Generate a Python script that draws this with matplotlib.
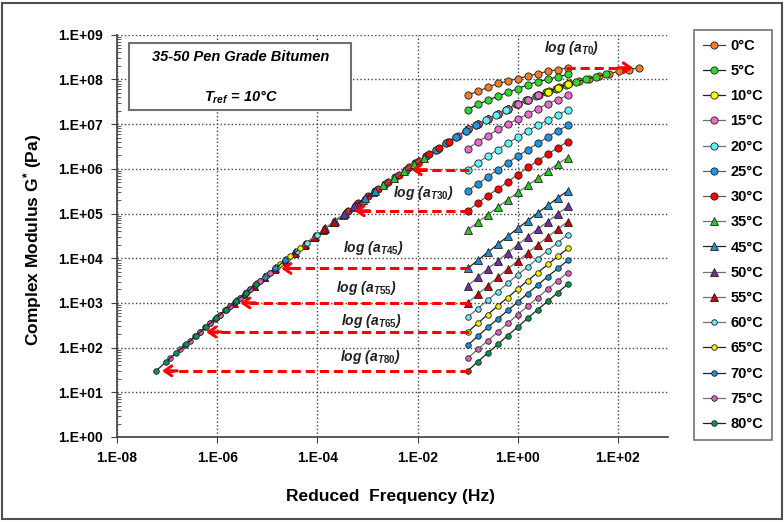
import numpy as np
import matplotlib
matplotlib.use('Agg')
import matplotlib.pyplot as plt
from matplotlib.patches import Rectangle, FancyArrowPatch
from matplotlib.ticker import LogLocator, FuncFormatter, NullFormatter

plt.rcParams['font.family'] = ['Liberation Sans', 'DejaVu Sans']
plt.rcParams['font.weight'] = 'bold'
plt.rcParams['mathtext.fontset'] = 'custom'
plt.rcParams['mathtext.rm'] = 'Liberation Sans:bold'
plt.rcParams['mathtext.bf'] = 'Liberation Sans:bold'
plt.rcParams['mathtext.it'] = 'Liberation Sans:italic:bold'

# test frequencies (Hz)
freq = [0.1, 0.158, 0.251, 0.398, 0.631, 1.0, 1.585, 2.512, 3.981, 6.310, 10.0]

temps = [0, 5, 10, 15, 20, 25, 30, 35, 45, 50, 55, 60, 65, 70, 75, 80]
# log10 of shift factor aT (Tref = 10 C)
log_aT = [1.42, 0.76, 0.0, -0.60, -1.24, -1.84, -2.38, -2.88,
          -3.84, -4.26, -4.66, -5.00, -5.34, -5.64, -5.94, -6.22]

# log10 |G*| (Pa) per isotherm
g00 = [7.65, 7.73, 7.82, 7.91, 7.96, 8.02, 8.07, 8.13, 8.18, 8.22, 8.26]
g05 = [7.32, 7.44, 7.53, 7.62, 7.71, 7.79, 7.88, 7.95, 8.00, 8.06, 8.11]
g10 = [6.88, 7.00, 7.11, 7.23, 7.34, 7.46, 7.55, 7.64, 7.72, 7.81, 7.90]
g15 = [6.45, 6.60, 6.74, 6.88, 7.00, 7.11, 7.23, 7.34, 7.46, 7.55, 7.64]
g20 = [5.98, 6.14, 6.28, 6.43, 6.57, 6.71, 6.85, 6.97, 7.09, 7.20, 7.32]
g25 = [5.51, 5.66, 5.82, 5.98, 6.14, 6.28, 6.43, 6.57, 6.71, 6.85, 6.97]
g30 = [5.06, 5.23, 5.40, 5.55, 5.71, 5.87, 6.03, 6.18, 6.33, 6.47, 6.61]
g35 = [4.63, 4.80, 4.97, 5.14, 5.31, 5.47, 5.63, 5.79, 5.95, 6.11, 6.25]
g45 = [3.77, 3.95, 4.13, 4.31, 4.49, 4.67, 4.84, 5.01, 5.18, 5.35, 5.51]
g50 = [3.38, 3.57, 3.76, 3.94, 4.12, 4.30, 4.48, 4.65, 4.82, 4.99, 5.16]
g55 = [3.00, 3.19, 3.38, 3.57, 3.76, 3.94, 4.12, 4.30, 4.48, 4.65, 4.82]
g60 = [2.68, 2.87, 3.06, 3.25, 3.44, 3.63, 3.81, 3.99, 4.17, 4.35, 4.53]
g65 = [2.35, 2.54, 2.74, 2.93, 3.12, 3.31, 3.50, 3.68, 3.86, 4.04, 4.22]
g70 = [2.05, 2.25, 2.45, 2.64, 2.83, 3.02, 3.21, 3.40, 3.59, 3.77, 3.95]
g75 = [1.76, 1.96, 2.15, 2.35, 2.54, 2.74, 2.93, 3.12, 3.31, 3.50, 3.68]
g80 = [1.48, 1.68, 1.88, 2.07, 2.27, 2.46, 2.66, 2.85, 3.04, 3.23, 3.42]
iso = [g00, g05, g10, g15, g20, g25, g30, g35, g45, g50, g55, g60, g65, g70, g75, g80]

# which shifts get an arrow / label
arrow_temps = [0, 20, 30, 45, 55, 65, 80]
label_temps = [0, 30, 45, 55, 65, 80]

colors = ['#F07C28', '#2ED82E', '#FFFF00', '#E86CC8', '#5CF4F4', '#1E96E0', '#FF0000',
          '#2EC82E', '#1E90D0', '#7030A0', '#D00000',
          '#70E8F8', '#F0F000', '#1E8CD8', '#E060C0', '#129050']
markers = ['o'] * 7 + ['^'] * 4 + ['o'] * 5
msizes = [5.2] * 7 + [5.2] * 4 + [4.0] * 5
lcol = ['#404040', '#202020', '#202020', '#707070', '#707070', '#606060', '#606060',
        '#707070', '#202020', '#707070', '#707070', '#707070', '#202020', '#202020',
        '#707070', '#202020']

fig = plt.figure(figsize=(7.84, 5.22), dpi=100)
fig.add_artist(Rectangle((0.003, 0.005), 0.994, 0.99, transform=fig.transFigure,
                         fill=False, ec='#505050', lw=1.5))
ax = fig.add_axes([117/784, 1-437/522, 551/784, 402.3/522])

f = np.array(freq)
for i, t in enumerate(temps):
    g = 10 ** np.array(iso[i])
    kw = dict(color=lcol[i], lw=0.9, marker=markers[i], ms=msizes[i],
              mfc=colors[i], mec='#202020', mew=0.6)
    ax.plot(f, g, label='%d°C' % t, zorder=3, **kw)
    ax.plot(f * 10 ** log_aT[i], g, zorder=3, **kw)

for t in arrow_temps:
    i = temps.index(t)
    k = -1 if log_aT[i] > 0 else 0
    x0 = freq[k]
    y0 = 10 ** iso[i][k]
    x1 = x0 * 10 ** log_aT[i]
    d = 10 ** (0.12 if log_aT[i] < 0 else -0.12)
    tip = x1 * d
    ax.plot([x0 * d ** 0.3, tip * d ** 0.8], [y0, y0], color='red', lw=2.2,
            dashes=(3, 1.6), zorder=4)
    ax.add_patch(FancyArrowPatch((tip * d ** 2.5, y0), (tip, y0),
                                 arrowstyle='->,head_length=5,head_width=3.5',
                                 color='red', lw=2.2, shrinkA=0, shrinkB=0, zorder=5))

lab_pos = {0: (12, 10 ** 8.70), 30: (10 ** -1.89, 10 ** 5.46), 45: (10 ** -2.89, 10 ** 4.23),
           55: (10 ** -3.02, 10 ** 3.33), 65: (10 ** -2.92, 10 ** 2.60), 80: (10 ** -2.95, 10 ** 1.80)}
for t in label_temps:
    ax.text(lab_pos[t][0], lab_pos[t][1], r'log (a$_{T%d}$)' % t, ha='center', va='center',
            fontsize=10, style='italic', weight='bold', color='#202020', zorder=6)

ax.set_xscale('log')
ax.set_yscale('log')
ax.set_xlim(1e-8, 1e3)
ax.set_ylim(1e0, 1e9)
fmt = FuncFormatter(lambda v, p: '1.E%+03d' % round(np.log10(v)))
ax.xaxis.set_major_locator(LogLocator(base=100.0, numticks=20))
ax.xaxis.set_minor_locator(LogLocator(base=10.0, numticks=20))
ax.xaxis.set_minor_formatter(NullFormatter())
ax.yaxis.set_major_locator(LogLocator(base=10.0, numticks=20))
ax.yaxis.set_minor_locator(LogLocator(base=10.0, subs=np.arange(2, 10), numticks=20))
ax.yaxis.set_minor_formatter(NullFormatter())
ax.xaxis.set_major_formatter(fmt)
ax.yaxis.set_major_formatter(fmt)
ax.tick_params(axis='both', which='major', labelsize=10, direction='out', length=4,
               color='#404040', pad=6)
ax.tick_params(axis='y', which='minor', direction='in', length=3, color='#404040')
ax.tick_params(axis='x', which='minor', length=0)
ax.grid(True, which='major', ls=':', lw=1.0, color='#404040')
for s in ['top', 'right']:
    ax.spines[s].set_visible(False)
for s in ['left', 'bottom']:
    ax.spines[s].set_color('#404040')
    ax.spines[s].set_linewidth(1.2)

fig.text(391/784, 1-496/522, 'Reduced  Frequency (Hz)', ha='center', va='center', fontsize=12.5)
fig.text(33/784, 1-240/522, r'Complex Modulus G$^{*}$ (Pa)', ha='center', va='center',
         fontsize=12.5, rotation=90)

fig.add_artist(Rectangle((129/784, 1-110/522), 222/784, 67.3/522, transform=fig.transFigure,
                         fc='white', ec='#707070', lw=1.5, zorder=5))
fig.text(241/784, 1-57/522, '35-50 Pen Grade Bitumen', ha='center', va='center',
         fontsize=10.5, style='italic', zorder=6)
fig.text(241/784, 1-97/522, r'$T_{ref}$ = 10°C', ha='center', va='center',
         fontsize=10.5, style='italic', zorder=6)

leg = fig.legend(loc='upper left', bbox_to_anchor=(694/784, 1-30/522), fontsize=10.5,
                 frameon=True, fancybox=False, edgecolor='#505050', handlelength=1.5,
                 handletextpad=0.4, labelspacing=0.77, borderpad=0.6, borderaxespad=0)
leg.get_frame().set_linewidth(1.2)

fig.savefig('out.png', dpi=100)
